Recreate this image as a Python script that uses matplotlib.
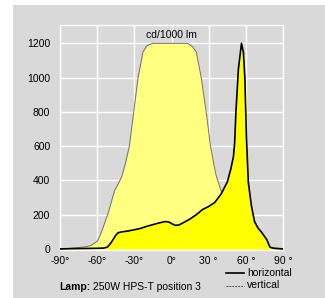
import matplotlib.pyplot as plt
from matplotlib.lines import Line2D
from matplotlib.patches import Rectangle

plt.rcParams['font.family'] = ['Liberation Sans', 'DejaVu Sans']

# horizontal plane (solid black, bright yellow fill)
h_ang = [-90, -80, -70, -60, -55, -52, -50, -48, -45, -43, -40, -35, -30, -25, -20,
         -15, -10, -5, -2, 0, 3, 6, 10, 15, 20, 25, 30, 35, 40, 45, 48, 50, 51, 52,
         54, 56.5, 58, 59.2, 60.5, 62, 64.5, 67, 70, 73, 77, 79.5, 82, 90]
h_val = [0, 2, 3, 4, 5, 10, 25, 45, 80, 95, 100, 105, 112, 120, 132,
         142, 152, 160, 157, 148, 138, 140, 155, 175, 200, 230, 248, 272, 320, 390, 470, 540, 620, 800,
         1050, 1200, 1150, 1000, 650, 390, 252, 160, 120, 95, 53, 10, 5, 0]

# vertical plane (thin grey, pale yellow fill, clipped at 1200)
v_ang = [-90, -80, -70, -65, -60, -58, -55, -51, -46, -43, -40, -37, -34, -30.5, -27, -23,
         -20, -15, 0, 13, 17, 20, 24, 28, 31.5, 34, 36, 40, 43, 48.5, 52, 56.5, 60, 67, 75, 85, 90]
v_val = [0, 5, 12, 20, 45, 73, 130, 212, 340, 380, 425, 505, 600, 800, 1000, 1150,
         1185, 1200, 1200, 1200, 1180, 1150, 1000, 800, 600, 500, 430, 340, 292, 155, 100, 53, 30, 14, 5, 0, 0]

x_ticks = [-90, -60, -30, 0, 30, 60, 90]
x_labels = ['-90°', '-60°', '-30°', '0°', '30 °', '60 °', '90 °']
y_ticks = [0, 200, 400, 600, 800, 1000, 1200]

bg = '#d9d9d9'
fig = plt.figure(figsize=(3.25, 2.98), dpi=100)
fig.patch.set_facecolor('white')
fig.add_artist(Rectangle((13 / 325, 0), 1, 1 - 5 / 298, transform=fig.transFigure,
                         facecolor=bg, edgecolor='none', zorder=-10))

ax = fig.add_axes([60 / 325, 1 - 250 / 298, 223 / 325, 225 / 298])
ax.set_facecolor(bg)
ax.fill_between(v_ang, v_val, color='#ffff80', lw=0, zorder=2)
ax.plot(v_ang, v_val, color='#707070', lw=0.7, zorder=3)
ax.fill_between(h_ang, h_val, color='#ffff00', lw=0, zorder=4)
ax.plot(h_ang, h_val, color='black', lw=1.2, zorder=5)

ax.set_xlim(-90, 90)
ax.set_ylim(-6, 1307)
ax.set_xticks(x_ticks)
ax.set_xticklabels(x_labels)
ax.set_yticks(y_ticks)
ax.grid(True, color='white', lw=1)
ax.set_axisbelow(True)
for s in ax.spines.values():
    s.set_color('white')
    s.set_linewidth(1)
ax.tick_params(length=0, labelsize=7.5, colors='black')
ax.tick_params(axis='y', pad=7)
ax.tick_params(axis='x', pad=4)

ax.text(0, 1222, 'cd/1000 lm', ha='center', va='bottom', fontsize=7.5, zorder=6)

# legend drawn by hand
fig.add_artist(Line2D([226 / 325, 244 / 325], [1 - 273 / 298] * 2, color='black', lw=1.2))
fig.add_artist(Line2D([226 / 325, 244 / 325], [1 - 285.5 / 298] * 2, color='#505050', lw=0.7,
                      ls=(0, (2, 1))))
fig.text(247 / 325, 1 - 273 / 298, 'horizontal', va='center', fontsize=7.5)
fig.text(247 / 325, 1 - 285.5 / 298, 'vertical', va='center', fontsize=7.5)

t = fig.text(59 / 325, 1 - 287 / 298, 'Lamp:', va='center', fontsize=7.5, fontweight='bold')
ax.annotate(' 250W HPS-T position 3', xy=(1, 0.5), xycoords=t, va='center', fontsize=7.5)

fig.savefig('out.png', dpi=100)
